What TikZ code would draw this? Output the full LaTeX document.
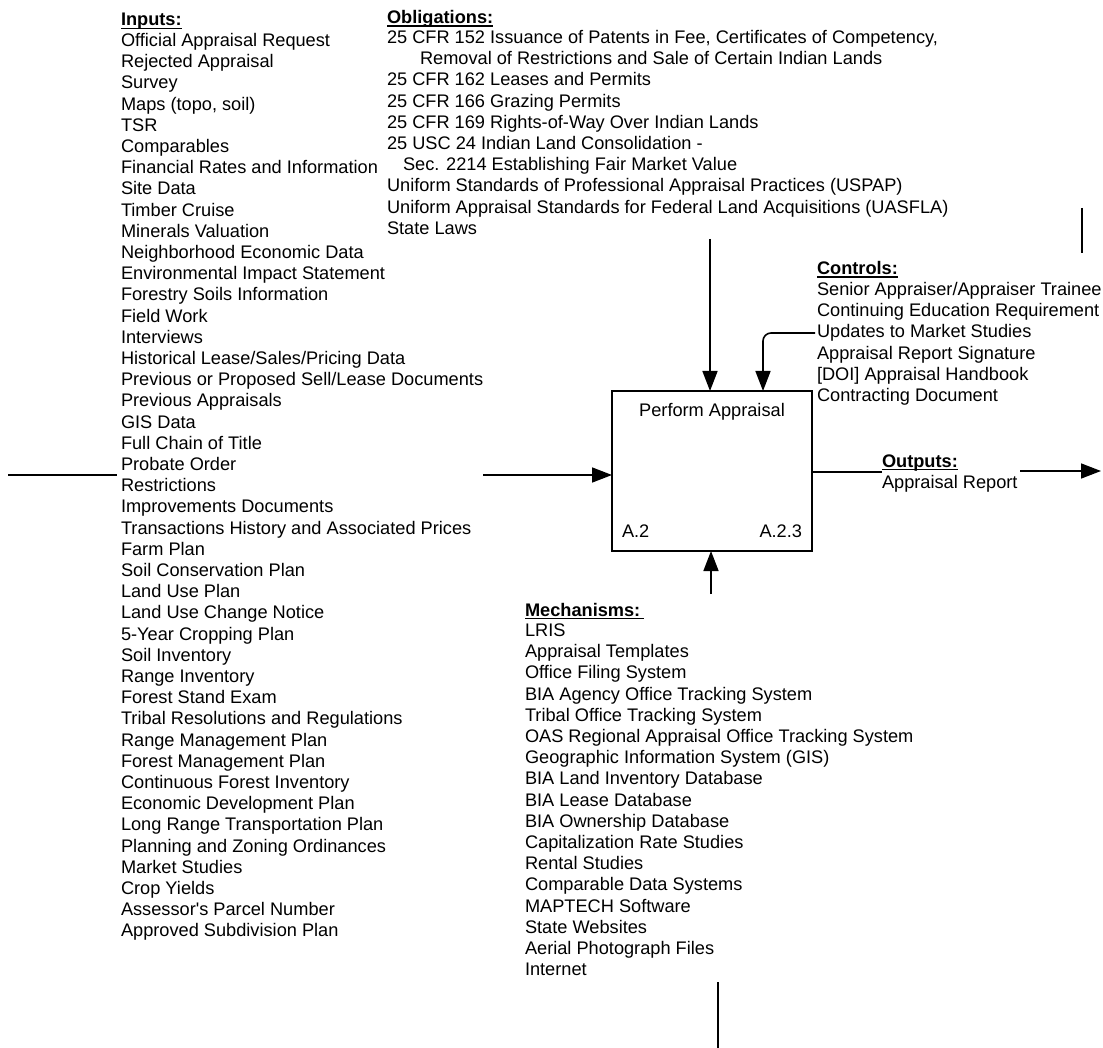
\documentclass[tikz,border=0pt]{standalone}
\usepackage{fontspec}
\setmainfont{Liberation Sans}[Ligatures=TeXOff]
\usetikzlibrary{arrows.meta}

\begin{document}
\begin{tikzpicture}[x=1pt,y=-1pt,
  every node/.style={inner sep=0pt, outer sep=0pt},
  item/.style={anchor=base west, font=\fontsize{18.2}{21.2}\selectfont},
  itemr/.style={anchor=base east, font=\fontsize{18.2}{21.2}\selectfont},
  itemc/.style={anchor=base, font=\fontsize{18.2}{21.2}\selectfont},
  head/.style={anchor=base west, font=\fontsize{18.2}{21.2}\selectfont\bfseries},
  uline/.style={line width=1.3pt},
  conn/.style={line width=1.6pt},
  flow/.style={conn, -{Triangle[length=20pt,width=15pt]}},
  activity/.style={draw, line width=1.8pt, minimum width=200pt, minimum height=160pt}
]
\useasboundingbox (0,0) rectangle (1103,1048);

% ---------- activity box ----------
\node[activity] (box) at (712,471) {};
\node[itemc] (title) at (712,417) {Perform Appraisal};
\node[item]  (num)   at (622,537) {A.2};
\node[itemr] (ref)   at (802,537) {A.2.3};

% ---------- inputs ----------
\node[head] (hin) at (121,26) {Inputs:};
\draw[uline] ([yshift=-2.5pt]hin.base west) -- ([yshift=-2.5pt]hin.base east);
\foreach \t [count=\i from 0] in {
  Official Appraisal Request, Rejected Appraisal, Survey, {Maps (topo, soil)}, TSR,
  Comparables, Financial Rates and Information, Site Data, Timber Cruise,
  Minerals Valuation, Neighborhood Economic Data, Environmental Impact Statement,
  Forestry Soils Information, Field Work, Interviews, Historical Lease/Sales/Pricing Data,
  Previous or Proposed Sell/Lease Documents, Previous Appraisals, GIS Data,
  Full Chain of Title, Probate Order, Restrictions, Improvements Documents,
  Transactions History and Associated Prices, Farm Plan, Soil Conservation Plan,
  Land Use Plan, Land Use Change Notice, 5-Year Cropping Plan, Soil Inventory,
  Range Inventory, Forest Stand Exam, Tribal Resolutions and Regulations,
  Range Management Plan, Forest Management Plan, Continuous Forest Inventory,
  Economic Development Plan, Long Range Transportation Plan,
  Planning and Zoning Ordinances, Market Studies, Crop Yields,
  {Assessor's Parcel Number}, Approved Subdivision Plan}
  \node[item] (in\i) at (121,{46.5+21.2*\i}) {\t};

% ---------- obligations ----------
\node[head] (hob) at (387,23.5) {Obligations:};
\draw[uline] ([yshift=-2.5pt]hob.base west) -- ([yshift=-2.5pt]hob.base east);
\node[item] (ob1)  at (387,43.5)  {25 CFR 152 Issuance of Patents in Fee, Certificates of Competency,};
\node[item] (ob2)  at (420,64.7)  {Removal of Restrictions and Sale of Certain Indian Lands};
\node[item] (ob3)  at (387,85.9)  {25 CFR 162 Leases and Permits};
\node[item] (ob4)  at (387,107.1) {25 CFR 166 Grazing Permits};
\node[item] (ob5)  at (387,128.3) {25 CFR 169 Rights-of-Way Over Indian Lands};
\node[item] (ob6)  at (387,149.5) {25 USC 24 Indian Land Consolidation -};
\node[item] (ob7)  at (403,170.7) {Sec. 2214 Establishing Fair Market Value};
\node[item] (ob8)  at (387,191.9) {Uniform Standards of Professional Appraisal Practices (USPAP)};
\node[item] (ob9)  at (387,213.1) {Uniform Appraisal Standards for Federal Land Acquisitions (UASFLA)};
\node[item] (ob10) at (387,234.3) {State Laws};

% ---------- controls ----------
\node[head] (hct) at (817,274.5) {Controls:};
\draw[uline] ([yshift=-2.5pt]hct.base west) -- ([yshift=-2.5pt]hct.base east);
\foreach \t [count=\i from 0] in {
  Senior Appraiser/Appraiser Trainee, Continuing Education Requirement,
  Updates to Market Studies, Appraisal Report Signature,
  {[DOI] Appraisal Handbook}, Contracting Document}
  \node[item] (ct\i) at (817,{295.5+21.2*\i}) {\t};

% ---------- outputs ----------
\node[head] (hout) at (882,467) {Outputs:};
\draw[uline] ([yshift=-2.5pt]hout.base west) -- ([yshift=-2.5pt]hout.base east);
\node[item] (out1) at (882,488.5) {Appraisal Report};

% ---------- mechanisms ----------
\node[head] (hme) at (525,616) {Mechanisms:};
\draw[uline] ([yshift=-2.5pt]hme.base west) -- ([yshift=-2.5pt,xshift=4pt]hme.base east);
\foreach \t [count=\i from 0] in {
  LRIS, Appraisal Templates, Office Filing System, BIA Agency Office Tracking System,
  Tribal Office Tracking System, OAS Regional Appraisal Office Tracking System,
  Geographic Information System (GIS), BIA Land Inventory Database, BIA Lease Database,
  BIA Ownership Database, Capitalization Rate Studies, Rental Studies,
  Comparable Data Systems, MAPTECH Software, State Websites, Aerial Photograph Files,
  Internet}
  \node[item] (me\i) at (525,{636.5+21.2*\i}) {\t};

% ---------- connector end points ----------
\coordinate (inL)   at (8,475);
\coordinate (inR)   at (117,475);
\coordinate (inA)   at (483,475);
\coordinate (obA)   at (710,239);
\coordinate (ctA)   at (815,333);
\coordinate (ctT)   at (1082,208);
\coordinate (ctB)   at (1082,253);
\coordinate (outA)  at (882,472);
\coordinate (outB)  at (1020,471);
\coordinate (outC)  at (1101,471);
\coordinate (meA)   at (711,594);
\coordinate (meT)   at (718,982);
\coordinate (meB)   at (718,1048);

% ---------- connectors ----------
\draw[conn] (inL) -- (inR);
\draw[flow] (inA) -- (inA -| box.west);
\draw[flow] (obA) -- (obA |- box.north);
\draw[flow, rounded corners=8pt] (ctA) -- (763,333) -- (763,391);
\draw[conn] (ctT) -- (ctB);
\draw[conn] (outA -| box.east) -- (outA);
\draw[flow] (outB) -- (outC);
\draw[flow] (meA) -- (meA |- box.south);
\draw[conn] (meT) -- (meB);
\end{tikzpicture}
\end{document}
